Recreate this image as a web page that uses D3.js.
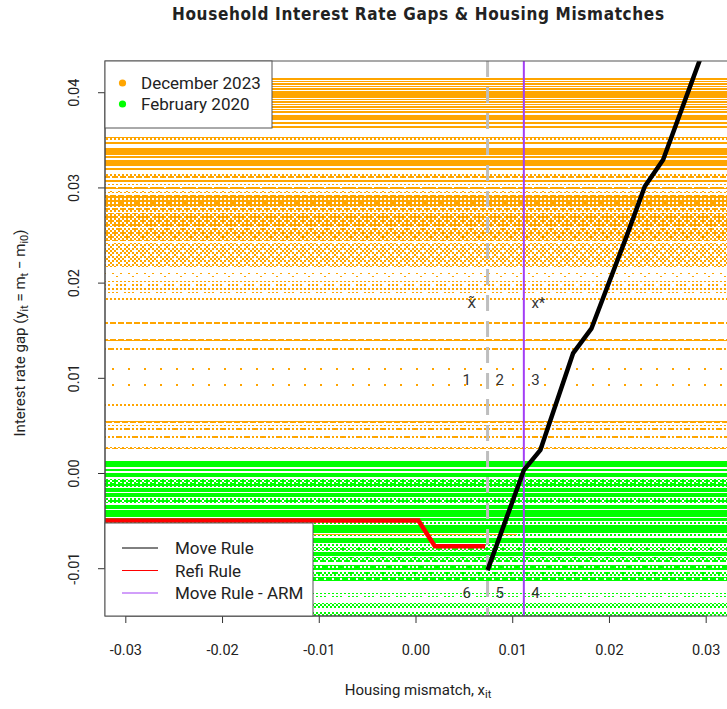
<!DOCTYPE html>
<html>
<head>
<meta charset="utf-8">
<script src="https://cdn.jsdelivr.net/npm/d3@7"></script>
<style>
body { margin: 0; background: #fff; }
text { font-family: Roboto, "DejaVu Sans", sans-serif; fill: #222; }
</style>
</head>
<body>
<div id="chart"></div>
<script>
// values
var xTicks = [-0.03, -0.02, -0.01, 0.00, 0.01, 0.02, 0.03];
var yTicks = [-0.01, 0.00, 0.01, 0.02, 0.03, 0.04];
var seriesNames = ["December 2023", "February 2020"];
var ruleNames = ["Move Rule", "Refi Rule", "Move Rule - ARM"];

// rows of household points: [y top, y bottom, share of the row that is filled, optional x end]
var dec2023Rows = [
  [0.04149, 0.04133, 1], [0.04123, 0.04107, 1], [0.04097, 0.04081, 1], [0.04070, 0.04055, 1],
  [0.04044, 0.04028, 1], [0.04018, 0.03944, 1], [0.03934, 0.03918, 1], [0.03908, 0.03892, 1],
  [0.03881, 0.03866, 1], [0.03855, 0.03839, 1], [0.03829, 0.03813, 1], [0.03803, 0.03787, 1],
  [0.03766, 0.03703, 1], [0.03687, 0.03666, 1], [0.03650, 0.03629, 1],
  [0.03529, 0.03503, 0.75], [0.03482, 0.03461, 1], [0.03419, 0.03340, 1], [0.03325, 0.03304, 1],
  [0.03288, 0.03220, 1], [0.03204, 0.03178, 1], [0.03136, 0.03099, 0.55], [0.03083, 0.03057, 0.95],
  [0.03041, 0.03025, 0.5], [0.03004, 0.02983, 0.9], [0.02962, 0.02941, 0.45], [0.02925, 0.02794, 0.8],
  [0.02784, 0.02742, 0.6], [0.02731, 0.02584, 0.65], [0.02574, 0.02437, 0.6], [0.02416, 0.02164, 0.4],
  [0.02101, 0.02059, 0.1], [0.02017, 0.01891, 0.22], [0.01843, 0.01817, 0.65], [0.01733, 0.01712, 0.05],
  [0.01591, 0.01570, 0.85], [0.01408, 0.01387, 0.8], [0.01308, 0.01287, 0.6], [0.01239, 0.00767, 0.015],
  [0.00725, 0.00704, 0.35], [0.00551, 0.00530, 0.9], [0.00509, 0.00494, 0.3], [0.00473, 0.00452, 0.6],
  [0.00389, 0.00368, 0.6], [0.00273, 0.00252, 0.6],
  [-0.00636, -0.00651, 0.95, 0.0105]
];
var feb2020Rows = [
  [0.00131, 0.00063, 1], [0.00047, 0.00021, 1], [0.00005, -0.00047, 1], [-0.00063, -0.00105, 0.6],
  [-0.00110, -0.00147, 0.8], [-0.00158, -0.00200, 1], [-0.00210, -0.00252, 1], [-0.00263, -0.00315, 0.7],
  [-0.00331, -0.00373, 1], [-0.00389, -0.00467, 1], [-0.00473, -0.00504, 1], [-0.00515, -0.00536, 0.5],
  [-0.00546, -0.00625, 1], [-0.00636, -0.00657, 0.5], [-0.00678, -0.00730, 1], [-0.00741, -0.00767, 0.5],
  [-0.00777, -0.00814, 0.6], [-0.00825, -0.00867, 1], [-0.00877, -0.00940, 0.6], [-0.00966, -0.01024, 0.85],
  [-0.01040, -0.01077, 0.6], [-0.01092, -0.01134, 0.8], [-0.01261, -0.01303, 0.2], [-0.01366, -0.01418, 0.55],
  [-0.01460, -0.01523, 0.55]
];

var moveRule = [[0.00745, -0.0102], [0.0112, 0.0003], [0.0129, 0.0024], [0.0163, 0.0126], [0.0182, 0.0152],
  [0.0218, 0.0248], [0.0237, 0.0301], [0.0256, 0.0329], [0.0294, 0.0434]];
var refiRule = [[-0.036, -0.0050], [0.0003, -0.0050], [0.0020, -0.0077], [0.0072, -0.0077]];
var xTilde = 0.00745;
var xStar = 0.0112;
var regionLabels = [
  { t: "x\u0303", x: 0.0058, y: 0.0179 }, { t: "x*", x: 0.0127, y: 0.0179 },
  { t: "1", x: 0.0053, y: 0.0098 }, { t: "2", x: 0.0087, y: 0.0098 }, { t: "3", x: 0.0124, y: 0.0098 },
  { t: "6", x: 0.0053, y: -0.0126 }, { t: "5", x: 0.0087, y: -0.0126 }, { t: "4", x: 0.0124, y: -0.0126 }
];

var W = 727, H = 709;
var mLeft = 105, mTop = 61, mRight = 726, mBottom = 616;
var orange = "#FFA500", green = "#00FF00", red = "#FF0000", purple = "#A33EF5";

var svg = d3.select("#chart").append("svg").attr("width", W).attr("height", H);
var defs = svg.append("defs");
defs.append("clipPath").attr("id", "plotclip")
  .append("rect").attr("x", mLeft).attr("y", mTop).attr("width", W - mLeft).attr("height", mBottom - mTop);

var x = d3.scaleLinear().domain([-0.0321, 0.0321]).range([mLeft, mRight]);
var y = d3.scaleLinear().domain([-0.01502, 0.04328]).range([mBottom, mTop]);
var fmt = d3.formatLocale({ decimal: ".", thousands: ",", grouping: [3], currency: ["", ""], minus: "-" }).format(".2f");

// ordered dither so partly filled rows look speckled, not striped
var bayer = [
  [0, 32, 8, 40, 2, 34, 10, 42], [48, 16, 56, 24, 50, 18, 58, 26],
  [12, 44, 4, 36, 14, 46, 6, 38], [60, 28, 52, 20, 62, 30, 54, 22],
  [3, 35, 11, 43, 1, 33, 9, 41], [51, 19, 59, 27, 49, 17, 57, 25],
  [15, 47, 7, 39, 13, 45, 5, 37], [63, 31, 55, 23, 61, 29, 53, 21]
];
function fillFor(color, d) {
  if (d >= 0.95) return color;
  var id = "p" + color.slice(1) + Math.round(d * 1000);
  if (defs.select("#" + id).empty()) {
    var p = defs.append("pattern").attr("id", id).attr("patternUnits", "userSpaceOnUse")
      .attr("width", 16).attr("height", 16);
    bayer.forEach(function(row, r) {
      row.forEach(function(v, c) {
        if ((v + 0.5) / 64 < d) {
          p.append("rect").attr("x", c * 2).attr("y", r * 2).attr("width", 2).attr("height", 2)
            .attr("fill", color).attr("shape-rendering", "crispEdges");
        }
      });
    });
  }
  return "url(#" + id + ")";
}

var plot = svg.append("g").attr("clip-path", "url(#plotclip)");

function drawRows(rows, color) {
  plot.append("g").attr("shape-rendering", "crispEdges").selectAll("rect").data(rows).enter().append("rect")
    .attr("x", mLeft)
    .attr("width", function(r) { return (r[3] !== undefined ? x(r[3]) : W) - mLeft; })
    .attr("y", function(r) { return y(r[0]); })
    .attr("height", function(r) { return Math.max(1.5, y(r[1]) - y(r[0])); })
    .attr("fill", function(r) { return fillFor(color, r[2]); });
}
drawRows(feb2020Rows, green);
drawRows(dec2023Rows, orange);

var line = d3.line().x(function(d) { return x(d[0]); }).y(function(d) { return y(d[1]); });

plot.append("path").datum(refiRule).attr("d", line)
  .attr("fill", "none").attr("stroke", red).attr("stroke-width", 4.5);
plot.append("line").attr("x1", x(xTilde)).attr("x2", x(xTilde)).attr("y1", mTop).attr("y2", mBottom)
  .attr("stroke", "#BEBEBE").attr("stroke-width", 3).attr("stroke-dasharray", "16,10");
plot.append("line").attr("x1", x(xStar)).attr("x2", x(xStar)).attr("y1", mTop).attr("y2", mBottom)
  .attr("stroke", purple).attr("stroke-width", 2);
plot.append("path").datum(moveRule).attr("d", line)
  .attr("fill", "none").attr("stroke", "#000").attr("stroke-width", 4.5).attr("stroke-linejoin", "round");

plot.selectAll("text.region").data(regionLabels).enter().append("text").attr("class", "region")
  .attr("x", function(d) { return x(d.x); }).attr("y", function(d) { return y(d.y); })
  .attr("dy", "0.35em").attr("text-anchor", "middle").style("font-size", "15px").style("fill", "#333")
  .style("font-family", function(d, i) { return i === 0 ? "'DejaVu Sans', sans-serif" : null; })
  .text(function(d) { return d.t; });

// axes
var xAxis = svg.append("g").attr("transform", "translate(0," + mBottom + ")")
  .call(d3.axisBottom(x).tickValues(xTicks).tickFormat(fmt).tickSize(7).tickPadding(22).tickSizeOuter(0));
xAxis.select(".domain").remove();
xAxis.append("line").attr("x1", x(xTicks[0])).attr("x2", x(xTicks[xTicks.length - 1])).attr("stroke", "#333");
xAxis.selectAll("line").attr("stroke", "#333");
xAxis.selectAll("text").style("font-size", "14.5px").attr("fill", "#333");

var yAxis = svg.append("g").attr("transform", "translate(" + mLeft + ",0)")
  .call(d3.axisLeft(y).tickValues(yTicks).tickFormat(fmt).tickSize(7).tickSizeOuter(0));
yAxis.select(".domain").remove();
yAxis.append("line").attr("y1", y(yTicks[0])).attr("y2", y(yTicks[yTicks.length - 1])).attr("stroke", "#333");
yAxis.selectAll("line").attr("stroke", "#333");
yAxis.selectAll(".tick text").attr("transform", "rotate(-90)").attr("x", 0).attr("y", -26).attr("dy", 0)
  .attr("text-anchor", "middle").style("font-size", "14.5px").attr("fill", "#333");

// plot box
svg.append("rect").attr("x", mLeft).attr("y", mTop).attr("width", W + 10 - mLeft).attr("height", mBottom - mTop)
  .attr("fill", "none").attr("stroke", "#555");

// titles
svg.append("text").attr("x", 418).attr("y", 20).attr("text-anchor", "middle")
  .style("font-family", "'Liberation Sans Narrow', 'DejaVu Sans Condensed', sans-serif")
  .style("font-weight", "bold").style("font-size", "17px").attr("textLength", 492)
  .text("Household Interest Rate Gaps & Housing Mismatches");

var xt = svg.append("text").attr("x", 418).attr("y", 695).attr("text-anchor", "middle").style("font-size", "15px").attr("fill", "#333");
xt.append("tspan").text("Housing mismatch, x");
xt.append("tspan").attr("baseline-shift", "-25%").style("font-size", "11px").text("it");

var yt = svg.append("text").attr("transform", "translate(25,333) rotate(-90)").attr("text-anchor", "middle")
  .style("font-size", "15px").attr("fill", "#333");
yt.append("tspan").text("Interest rate gap (y");
yt.append("tspan").attr("baseline-shift", "-25%").style("font-size", "11px").text("it");
yt.append("tspan").text(" = m");
yt.append("tspan").attr("baseline-shift", "-25%").style("font-size", "11px").text("t");
yt.append("tspan").text(" \u2212 m");
yt.append("tspan").attr("baseline-shift", "-25%").style("font-size", "11px").text("i0");
yt.append("tspan").text(")");

// legends
var lg1 = svg.append("g");
lg1.append("rect").attr("x", mLeft).attr("y", mTop).attr("width", 167).attr("height", 67)
  .attr("fill", "#fff").attr("stroke", "#555");
lg1.selectAll("circle").data(seriesNames).enter().append("circle")
  .attr("cx", 122.5).attr("cy", function(d, i) { return 83 + i * 21; }).attr("r", 3.6)
  .attr("fill", function(d, i) { return i === 0 ? orange : green; });
lg1.selectAll("text").data(seriesNames).enter().append("text")
  .attr("x", 141).attr("y", function(d, i) { return 83 + i * 21; }).attr("dy", "0.36em")
  .style("font-size", "17px").text(function(d) { return d; });

var lg2 = svg.append("g");
var ruleColors = ["#000", red, purple];
lg2.append("rect").attr("x", mLeft).attr("y", 523).attr("width", 208).attr("height", mBottom - 523)
  .attr("fill", "#fff").attr("stroke", "#555");
lg2.selectAll("line").data(ruleNames).enter().append("line")
  .attr("x1", 122).attr("x2", 158)
  .attr("y1", function(d, i) { return 548 + i * 22.5; }).attr("y2", function(d, i) { return 548 + i * 22.5; })
  .attr("stroke", function(d, i) { return ruleColors[i]; }).attr("stroke-width", 1);
lg2.selectAll("text").data(ruleNames).enter().append("text")
  .attr("x", 175).attr("y", function(d, i) { return 548 + i * 22.5; }).attr("dy", "0.36em")
  .style("font-size", "17px").text(function(d) { return d; });
</script>
</body>
</html>
